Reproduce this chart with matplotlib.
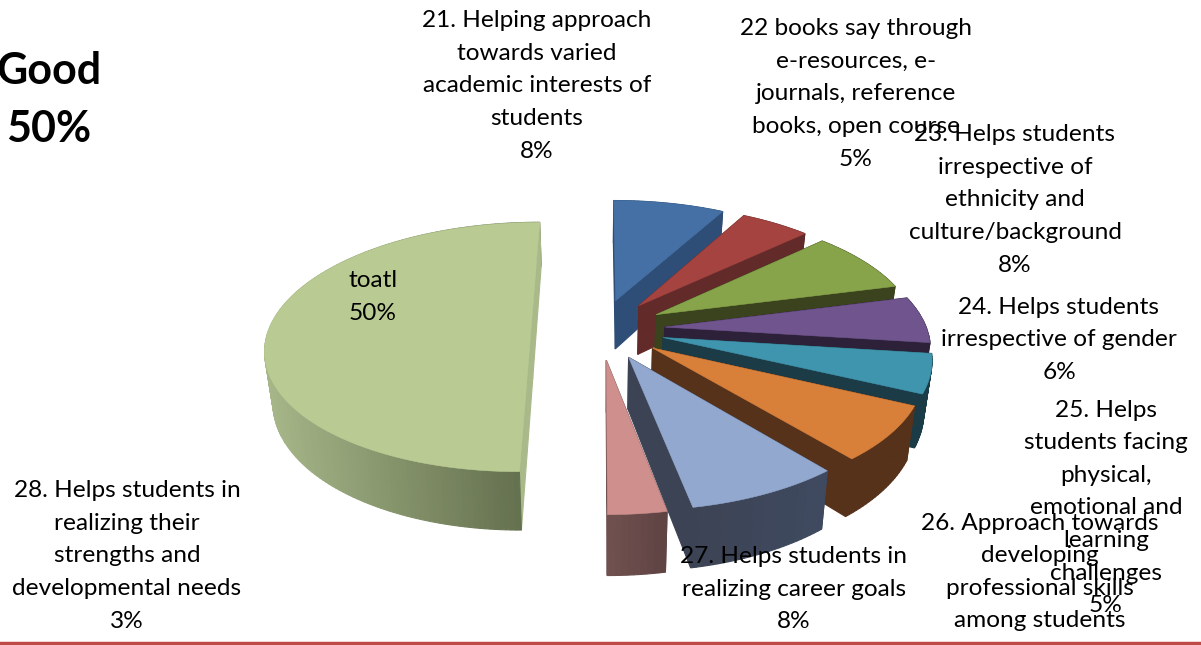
import numpy as np
import matplotlib
matplotlib.use("Agg")
import matplotlib.pyplot as plt
from matplotlib.colors import to_rgb
from matplotlib.patches import Polygon

plt.rcParams['font.family'] = ['Lato', 'DejaVu Sans']

# slices, clockwise from 12 o'clock
values = [8, 5, 8, 6, 5, 7, 8, 3, 50]
labels = [
    "21. Helping approach\ntowards varied\nacademic interests of\nstudents\n8%",
    "22 books say through\ne-resources, e-\njournals, reference\nbooks, open course\n5%",
    "23. Helps students\nirrespective of\nethnicity and\nculture/background\n8%",
    "24. Helps students\nirrespective of gender\n6%",
    "25. Helps\nstudents facing\nphysical,\nemotional and\nlearning\nchallenges\n5%",
    "26. Approach towards\ndeveloping\nprofessional skills\namong students",
    "27. Helps students in\nrealizing career goals\n8%",
    "28. Helps students in\nrealizing their\nstrengths and\ndevelopmental needs\n3%",
    "toatl\n50%",
]
top_colors = ["#4470A5", "#A44340", "#87A44A", "#70548E", "#3F95AE",
              "#D8803A", "#92A8CF", "#CE8F8D", "#B9CB93"]
# side colour at the left and right end of the rim
side_colors = [("#2E4E77", "#2E4E77"), ("#622A29", "#622A29"), ("#3A431D", "#3A431D"),
               ("#2C2139", "#2C2139"), ("#1B3B47", "#1B3B47"), ("#57321A", "#57321A"),
               ("#3C4354", "#3F4A60"), ("#705150", "#5E4342"), ("#A6B688", "#5F6B4A")]
title = "Good\n50%"

label_pos = [(537, 86), (856, 94), (1015, 200), (1059, 340), (1106, 508),
             (1040, 572), (794, 589), (127, 556), (373, 297)]

CX, CY = 600, 329
RADIUS = 262
EXPLODE = 65
EXPLODE_BIG = 69
TILT = 0.466
PERSP = 0.00055
DEPTH = 50
SHRINK = 0.975


def project(u, v, bottom=False):
  s = 1 / (1 - PERSP * v)
  x = u * s
  y = TILT * v * s
  if bottom:
    return CX + x * SHRINK, CY + y + DEPTH * s
  return CX + x, CY + y


def slice_outline(start, end, explode):
  mid = np.radians((start + end) / 2)
  au, av = explode * np.sin(mid), -explode * np.cos(mid)
  th = np.radians(np.linspace(start, end, max(int(end - start), 4)))
  u = np.r_[au, au + RADIUS * np.sin(th)]
  v = np.r_[av, av - RADIUS * np.cos(th)]
  return u, v


def mix(a, b, t):
  a, b = np.array(to_rgb(a)), np.array(to_rgb(b))
  return tuple(a + (b - a) * t)


fig = plt.figure(figsize=(12.01, 6.45), dpi=100)
ax = fig.add_axes([0, 0, 1, 1])
ax.set_xlim(0, 1201)
ax.set_ylim(645, 0)
ax.axis("off")

edges = np.r_[0, np.cumsum(values)] / sum(values) * 360

# the big slice sits at the back, the others go back to front
for i in [8, 0, 1, 2, 3, 4, 5, 6, 7]:
  u, v = slice_outline(edges[i], edges[i + 1], EXPLODE_BIG if i == 8 else EXPLODE)
  tx, ty = project(u, v)
  bx, by = project(u, v, bottom=True)
  n = len(u)
  faces = []
  for j in range(n):
    k = (j + 1) % n
    quad = [(tx[j], ty[j]), (tx[k], ty[k]), (bx[k], by[k]), (bx[j], by[j])]
    rim = j != 0 and k != 0
    faces.append((v[j] + v[k], quad, rim))
  faces.sort(key=lambda f: f[0])
  left, right = side_colors[i]
  xmin, xmax = bx[1:].min(), bx[1:].max()
  for _, quad, rim in faces:
    if rim:
      t = (np.mean([p[0] for p in quad]) - xmin) / (xmax - xmin)
      c = mix(left, right, t)
    else:
      c = mix(left, top_colors[i], 0.15) if i == 8 else left
    ax.add_patch(Polygon(quad, closed=True, facecolor=c, edgecolor=c, lw=0.8))
  ax.add_patch(Polygon(np.c_[tx, ty], closed=True, facecolor=top_colors[i],
                       edgecolor=top_colors[i], lw=0.4))

for text, (x, y) in zip(labels, label_pos):
  ax.text(x, y, text, ha="center", va="center", multialignment="center",
          fontsize=17.6, linespacing=1.68, color="black")

ax.text(49, 100, title, ha="center", va="center", multialignment="center",
        fontsize=31, fontweight="bold", linespacing=1.53, color="black")

ax.axhline(643, color="#BE4B48", lw=2.5)

fig.savefig("out.png", dpi=100)
